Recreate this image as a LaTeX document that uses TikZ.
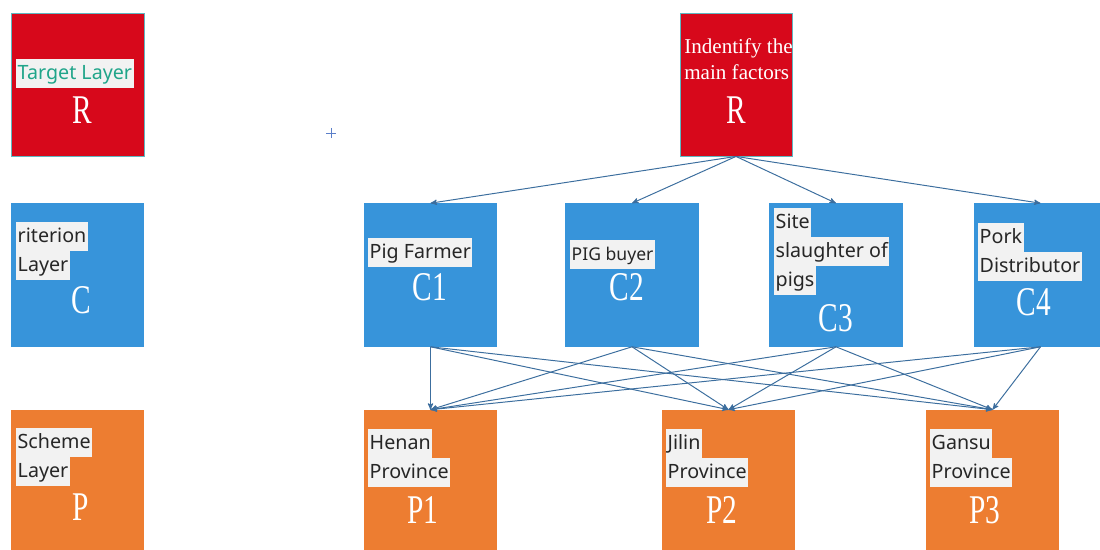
\documentclass[tikz,border=0pt]{standalone}
\usepackage{fontspec}
\usepackage{graphicx}
\usetikzlibrary{arrows}
\usetikzlibrary{calc}
\usetikzlibrary{positioning}

\newfontfamily\labelfont{Noto Sans}
\newfontfamily\letterfont{Liberation Serif}

\definecolor{targetred}{HTML}{D7081B}
\definecolor{critblue}{HTML}{3794DA}
\definecolor{schemeorange}{HTML}{ED7D31}
\definecolor{linkblue}{HTML}{3C6E9E}
\definecolor{hlgray}{HTML}{F2F2F2}
\definecolor{labelteal}{HTML}{20A58A}
\definecolor{edgeteal}{HTML}{5FB7C1}
\definecolor{cursorblue}{HTML}{5B7FC9}

% highlighted line of a label
\newcommand{\hl}[1]{{\setlength{\fboxsep}{0pt}\colorbox{hlgray}{\strut\hspace{1pt}#1\hspace{1pt}}}}
% narrow big letter
\newcommand{\tall}[1]{\scalebox{0.72}[1]{#1}}

\tikzset{
  layerbox/.style={minimum width=3.325cm, minimum height=3.575cm, inner sep=0},
  redbox/.style={layerbox, fill=targetred, draw=edgeteal, line width=0.6pt},
  bluebox/.style={layerbox, fill=critblue},
  orangebox/.style={layerbox, fill=schemeorange},
  bigletter/.style={text=white, inner sep=0, font=\letterfont\fontsize{29}{30}\selectfont},
  tag/.style={anchor=north west, inner sep=0, align=left, text=black!85,
    font=\labelfont\fontsize{14}{20.6}\selectfont},
  link/.style={->, >=stealth', draw=linkblue, line width=0.7pt}
}

\begin{document}
\begin{tikzpicture}[x=0.025cm, y=-0.025cm]
  \useasboundingbox (0,0) rectangle (1100,550);
  \clip (0,0) rectangle (1100,550);

  % legend column
  \node[redbox] (target) at (77.5,84.5) {};
  \node[bluebox] (crit) at (77.5,275) {};
  \node[orangebox] (scheme) at (77.5,481.5) {};

  \node[tag, text=labelteal] (targettag) at (16,59) {\hl{Target Layer}};
  \node[tag] (crittag) at (16,222) {\hl{riterion}\\\hl{Layer}};
  \node[tag] (schemetag) at (16,428) {\hl{Scheme}\\\hl{Layer}};

  \node[bigletter] (targetlet) at (82,110) {\tall{R}};
  \node[bigletter] (critlet) at (81,300) {\tall{C}};
  \node[bigletter] (schemelet) at (81,507) {\tall{P}};

  % hierarchy
  \node[redbox, minimum width=2.8cm] (r) at (736,84.5) {};
  \foreach \name/\x in {c1/430.5,c2/632,c3/836,c4/1040.5}
    \node[bluebox] (\name) at (\x,275) {};
  \foreach \name/\x in {p1/430.5,p2/728.5,p3/992.5}
    \node[orangebox] (\name) at (\x,481.5) {};

  \node[tag, text=white, font=\letterfont\fontsize{15}{19}\selectfont] (rtag) at (684,38)
    {Indentify the\\main factors};
  \node[bigletter] (rlet) at (736,110) {\tall{R}};

  \node[tag] (c1tag) at (368,238) {\hl{Pig Farmer}};
  \node[tag, font=\labelfont\fontsize{12.5}{20.6}\selectfont] (c2tag) at (570,240) {\hl{PIG buyer}};
  \node[tag] (c3tag) at (774,208) {\hl{Site}\\\hl{slaughter of}\\\hl{pigs}};
  \node[tag] (c4tag) at (978,223) {\hl{Pork}\\\hl{Distributor}};

  \foreach \name/\x/\y/\txt in {c1/430/287/C1,c2/627/287/C2,c3/836/318/C3,c4/1034/302/C4}
    \node[bigletter] (\name let) at (\x,\y) {\tall{\txt}};

  \node[tag] (p1tag) at (368,429) {\hl{Henan}\\\hl{Province}};
  \node[tag] (p2tag) at (666,429) {\hl{Jilin}\\\hl{Province}};
  \node[tag] (p3tag) at (930,429) {\hl{Gansu}\\\hl{Province}};

  \foreach \name/\x/\txt in {p1/423/P1,p2/722/P2,p3/985/P3}
    \node[bigletter] (\name let) at (\x,510) {\tall{\txt}};

  % links
  \foreach \c in {c1,c2,c3,c4}
  {
    \draw[link] (r.south) -- (\c.north);
    \foreach \p in {p1,p2,p3}
      \draw[link] (\c.south) -- (\p.north);
  }

  % cursor mark
  \draw[cursorblue, line width=0.7pt] (326,133) -- (336,133) (331,128) -- (331,138);
\end{tikzpicture}
\end{document}
